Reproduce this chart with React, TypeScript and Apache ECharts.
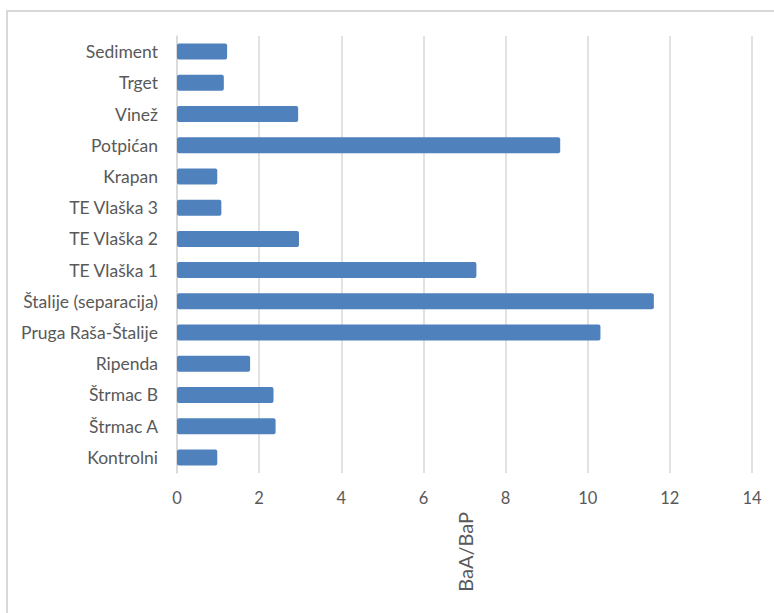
import React, { useEffect, useRef } from "react";
import * as echarts from "echarts";

const categories = [
  "Sediment",
  "Trget",
  "Vinež",
  "Potpićan",
  "Krapan",
  "TE Vlaška 3",
  "TE Vlaška 2",
  "TE Vlaška 1",
  "Štalije (separacija)",
  "Pruga Raša-Štalije",
  "Ripenda",
  "Štrmac B",
  "Štrmac A",
  "Kontrolni",
];
const values = [1.22, 1.14, 2.95, 9.33, 0.98, 1.08, 2.97, 7.29, 11.61, 10.31, 1.78, 2.35, 2.4, 0.98];
const axisName = "BaA/BaP";

const FONT = "Lato, 'Noto Sans', 'Liberation Sans', sans-serif";

export default function App() {
  const ref = useRef<HTMLDivElement>(null);
  useEffect(() => {
    if (!ref.current) return;
    const chart = echarts.init(ref.current, undefined, { renderer: "svg" });
    chart.setOption({
      animation: false,
      backgroundColor: "#ffffff",
      textStyle: { fontFamily: FONT },
      graphic: [
        {
          type: "rect",
          shape: { x: 7, y: 11, width: 800, height: 700 },
          style: { fill: "none", stroke: "#d9d9d9", lineWidth: 2 },
          silent: true,
        },
      ],
      grid: { left: 177, right: 22, top: 36, bottom: 140, containLabel: false },
      xAxis: {
        type: "value",
        min: 0,
        max: 14,
        interval: 2,
        axisLine: { show: false },
        axisTick: { show: false },
        splitLine: { show: true, lineStyle: { color: "#d9d9d9", width: 1.5 } },
        axisLabel: { color: "#595959", fontSize: 16.5, fontFamily: FONT, margin: 16 },
        name: axisName,
        nameLocation: "middle",
        nameRotate: 90,
        nameGap: 39,
        nameTextStyle: { color: "#595959", fontSize: 20, fontFamily: FONT },
      },
      yAxis: {
        type: "category",
        data: categories,
        inverse: true,
        axisLine: { show: true, lineStyle: { color: "#d9d9d9", width: 1.5 } },
        axisTick: { show: false },
        axisLabel: { color: "#595959", fontSize: 17.5, fontFamily: FONT, margin: 19 },
      },
      series: [
        {
          type: "bar",
          data: values,
          barWidth: 16,
          itemStyle: { color: "#4f81bd", borderRadius: 2 },
        },
      ],
    });
    return () => chart.dispose();
  }, []);
  return (
    <div
      ref={ref}
      style={{ position: "absolute", left: 0, top: 0, width: 774, height: 613 }}
    />
  );
}
